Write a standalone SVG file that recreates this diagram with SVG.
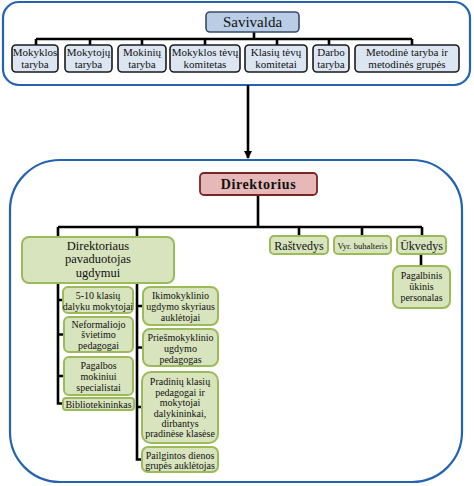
<svg xmlns="http://www.w3.org/2000/svg" width="474" height="486" viewBox="0 0 474 486" font-family="'Liberation Serif', 'DejaVu Serif', serif">
<defs>
<marker id="arr" markerWidth="8" markerHeight="8" refX="7" refY="4" orient="auto" markerUnits="userSpaceOnUse">
<path d="M0,0 L8,4 L0,8 Z" fill="#000"/>
</marker>
</defs>
<style>
text{fill:#111;text-anchor:middle}
.frame{fill:none;stroke:#2463b0;stroke-width:2.2}
.top{fill:#dce6f2;stroke:#1a1a1a;stroke-width:1.6}
.sav{fill:#b9cde5;stroke:#384a6b;stroke-width:1.6}
.dir{fill:#e6b9b8;stroke:#7a2626;stroke-width:1.8}
.g{fill:#d8e4bd;stroke:#9bbb59;stroke-width:2}
.c{fill:none;stroke:#000;stroke-width:2.6}
.t11{font-size:11px}
.t10{font-size:10px}
.t12{font-size:12.5px}
</style>

<g id="frames">
<rect class="frame" x="3" y="2" width="467" height="83" rx="16"/>
<rect class="frame" x="10" y="160" width="452" height="322" rx="50"/>
</g>

<g id="connectors">
<path class="c" d="M254,32 V39 M36,39 H412 M36,39 V45 M90,39 V45 M142,39 V45 M205,39 V45 M277,39 V45 M329,39 V45 M412,39 V45"/>
<path class="c" d="M248,85 V158" marker-end="url(#arr)"/>
<path class="c" d="M258,196 V227 M58,227 H422 M58,227 V237 M137,227 V237 M299,227 V236 M362,227 V236 M422,227 V236 M421,254 V266"/>
<path class="c" d="M58,283 V403.5 H63 M58,300 H63 M58,334.5 H63 M58,376 H63"/>
<path class="c" d="M137,283 V459.5 H142 M137,306 H142 M137,347.5 H142 M137,407 H142"/>
</g>

<g id="savivalda">
<rect class="sav" x="206" y="12" width="93" height="20" rx="4"/>
<text x="252.5" y="27" font-size="15">Savivalda</text>
</g>

<g id="mokyklos-taryba">
<rect class="top" x="12" y="45" width="46" height="27" rx="4"/>
<text class="t11" x="35" y="56">Mokyklos</text>
<text class="t11" x="35" y="68">taryba</text>
</g>
<g id="mokytoju-taryba">
<rect class="top" x="65" y="45" width="47" height="27" rx="4"/>
<text class="t11" x="88.5" y="56">Mokytojų</text>
<text class="t11" x="88.5" y="68">taryba</text>
</g>
<g id="mokiniu-taryba">
<rect class="top" x="118" y="45" width="48" height="27" rx="4"/>
<text class="t11" x="142" y="56">Mokinių</text>
<text class="t11" x="142" y="68">taryba</text>
</g>
<g id="mokyklos-tevu-komitetas">
<rect class="top" x="170" y="45" width="70" height="27" rx="4"/>
<text class="t11" x="205" y="56">Mokyklos tėvų</text>
<text class="t11" x="205" y="68">komitetas</text>
</g>
<g id="klasiu-tevu-komitetai">
<rect class="top" x="245" y="45" width="62" height="27" rx="4"/>
<text class="t11" x="276" y="56">Klasių tėvų</text>
<text class="t11" x="276" y="68">komitetai</text>
</g>
<g id="darbo-taryba">
<rect class="top" x="313" y="45" width="36" height="27" rx="4"/>
<text class="t11" x="331" y="56">Darbo</text>
<text class="t11" x="331" y="68">taryba</text>
</g>
<g id="metodine-taryba">
<rect class="top" x="355" y="45" width="104" height="27" rx="4"/>
<text class="t11" x="407" y="56">Metodinė taryba ir</text>
<text class="t11" x="407" y="68">metodinės grupės</text>
</g>

<g id="direktorius">
<rect class="dir" x="200" y="173" width="117" height="22" rx="4"/>
<text x="258.5" y="189" font-size="14" font-weight="bold" letter-spacing="0.6">Direktorius</text>
</g>

<g id="pavaduotojas">
<rect class="g" x="22" y="237" width="152" height="46" rx="7"/>
<text class="t12" x="98" y="249.5">Direktoriaus</text>
<text class="t12" x="98" y="263">pavaduotojas</text>
<text class="t12" x="98" y="276.5">ugdymui</text>
</g>
<g id="rastvedys">
<rect class="g" x="270" y="236" width="58" height="18" rx="4"/>
<text x="299" y="249.5" font-size="12">Raštvedys</text>
</g>
<g id="buhalteris">
<rect class="g" x="334" y="236" width="57" height="18" rx="4"/>
<text x="362.5" y="248.5" font-size="8.6">Vyr. buhalteris</text>
</g>
<g id="ukvedys">
<rect class="g" x="397" y="236" width="49" height="18" rx="4"/>
<text x="421.5" y="249.5" font-size="12">Ūkvedys</text>
</g>
<g id="pagalbinis">
<rect class="g" x="393" y="266" width="57" height="42" rx="7"/>
<text class="t10" x="421.5" y="278.5">Pagalbinis</text>
<text class="t10" x="421.5" y="289.5">ūkinis</text>
<text class="t10" x="421.5" y="300.5">personalas</text>
</g>

<g id="dalyku-mokytojai">
<rect class="g" x="63" y="287" width="70" height="26" rx="5"/>
<text class="t10" x="98" y="298.5">5-10 klasių</text>
<text class="t10" x="98" y="309.5">dalyku mokytojai</text>
</g>
<g id="neformaliojo">
<rect class="g" x="64" y="317" width="69" height="35" rx="5"/>
<text class="t10" x="98.5" y="327.5">Neformaliojo</text>
<text class="t10" x="98.5" y="338">švietimo</text>
<text class="t10" x="98.5" y="349">pedagogai</text>
</g>
<g id="pagalbos">
<rect class="g" x="64" y="357" width="69" height="38" rx="5"/>
<text class="t10" x="98.5" y="368.5">Pagalbos</text>
<text class="t10" x="98.5" y="379.5">mokiniui</text>
<text class="t10" x="98.5" y="390.5">specialistai</text>
</g>
<g id="bibliotekininkas">
<rect class="g" x="63" y="398" width="71" height="12" rx="3"/>
<text class="t10" x="98.5" y="407.5">Bibliotekininkas</text>
</g>

<g id="ikimokyklinio">
<rect class="g" x="143" y="287" width="75" height="38" rx="7"/>
<text class="t10" x="180.5" y="298.5">Ikimokyklinio</text>
<text class="t10" x="180.5" y="309.5">ugdymo skyriaus</text>
<text class="t10" x="180.5" y="320.5">auklėtojai</text>
</g>
<g id="priesmokyklinio">
<rect class="g" x="143" y="329" width="75" height="37" rx="7"/>
<text class="t10" x="180.5" y="341">Priešmokyklinio</text>
<text class="t10" x="180.5" y="352">ugdymo</text>
<text class="t10" x="180.5" y="362.5">pedagogas</text>
</g>
<g id="pradiniu">
<rect class="g" x="142" y="372" width="76" height="71" rx="9"/>
<text class="t10" x="180" y="385">Pradinių klasių</text>
<text class="t10" x="180" y="395.5">pedagogai ir</text>
<text class="t10" x="180" y="406">mokytojai</text>
<text class="t10" x="180" y="416.5">dalykininkai,</text>
<text class="t10" x="180" y="427">dirbantys</text>
<text class="t10" x="180" y="437">pradinėse klasėse</text>
</g>
<g id="pailgintos">
<rect class="g" x="142" y="447" width="76" height="25" rx="6"/>
<text class="t10" x="180" y="458.5">Pailgintos dienos</text>
<text class="t10" x="180" y="469">grupės auklėtojas</text>
</g>
</svg>
